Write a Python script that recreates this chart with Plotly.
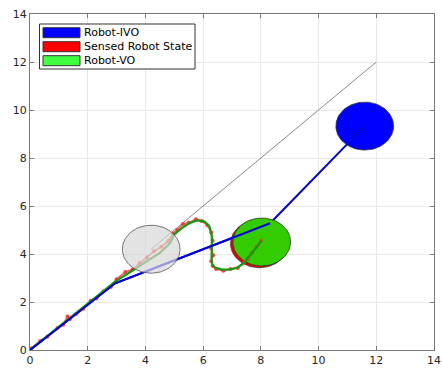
import numpy as np
import plotly.graph_objects as go

# ---- data ----
ivo_x = [0, 2.95, 8.32, 11.6]
ivo_y = [0, 2.78, 5.28, 9.33]

vo_x = [0, 0.5, 1.0, 1.5, 2.0, 2.5, 2.95, 3.5, 4.0, 4.5, 4.85, 5.0, 5.25, 5.5, 5.78,
        6.05, 6.22, 6.3, 6.3, 6.29, 6.32, 6.42, 6.65, 6.95, 7.2, 7.42, 7.68, 7.95, 8.03]
vo_y = [0, 0.48, 0.96, 1.44, 1.92, 2.4, 2.85, 3.27, 3.65, 4.05, 4.45, 4.82, 5.07, 5.27, 5.4,
        5.35, 5.14, 4.75, 4.2, 3.8, 3.55, 3.43, 3.35, 3.36, 3.44, 3.64, 4.03, 4.42, 4.55]

sensed_x = [0.05, 0.35, 0.6, 0.95, 1.15, 1.3, 1.38, 1.6, 1.85, 2.1, 2.3, 2.55, 2.8, 3.0, 3.3,
            3.55, 3.8, 4.05, 4.3, 4.55, 4.8, 4.95, 5.1, 5.3, 5.5, 5.75, 5.95, 6.15, 6.28, 6.33,
            6.27, 6.35, 6.28, 6.33, 6.45, 6.7, 6.95, 7.2, 7.4, 7.55, 7.7, 7.85, 8.0]
sensed_y = [0.07, 0.38, 0.55, 0.92, 1.05, 1.4, 1.28, 1.5, 1.72, 2.05, 2.15, 2.45, 2.62, 2.95, 3.25,
            3.35, 3.62, 3.85, 4.12, 4.3, 4.55, 4.85, 5.0, 5.25, 5.3, 5.45, 5.38, 5.2, 4.9, 4.55,
            4.25, 3.95, 3.7, 3.5, 3.38, 3.3, 3.38, 3.42, 3.62, 3.8, 4.05, 4.3, 4.55]

guide_x = [4.2, 12]
guide_y = [4.2, 12]

# circles: center x, center y, radius
ivo_circle = (11.6, 9.33, 1.0)
sensed_circle = (7.95, 4.43, 1.0)
vo_circle = (8.03, 4.5, 1.0)
obstacle_circle = (4.2, 4.2, 1.0)

ticks = [0, 2, 4, 6, 8, 10, 12, 14]
legend_labels = ["Robot-IVO", "Sensed Robot State", "Robot-VO"]
legend_colors = ["#0000ff", "#ff0000", "#40ff40"]

# ---- figure ----
t = np.linspace(0, 2 * np.pi, 121)


def circ(c):
    return c[0] + c[2] * np.cos(t), c[1] + c[2] * np.sin(t)


fig = go.Figure()

fig.add_trace(go.Scatter(x=guide_x, y=guide_y, mode="lines",
                         line=dict(color="#8a8a8a", width=1), showlegend=False))

fig.add_trace(go.Scatter(x=ivo_x, y=ivo_y, mode="lines",
                         line=dict(color="#0000dd", width=2), showlegend=False))

cx, cy = circ(ivo_circle)
fig.add_trace(go.Scatter(x=cx, y=cy, mode="lines", fill="toself", fillcolor="#0000ff",
                         line=dict(color="#333333", width=0.8), showlegend=False))
fig.add_trace(go.Scatter(x=ivo_x[-2:], y=ivo_y[-2:], mode="lines",
                         line=dict(color="#1a1a70", width=0.8), showlegend=False))

cx, cy = circ(sensed_circle)
fig.add_trace(go.Scatter(x=cx, y=cy, mode="lines", fill="toself", fillcolor="#ee0000",
                         line=dict(color="#333333", width=0.8), showlegend=False))
cx, cy = circ(vo_circle)
fig.add_trace(go.Scatter(x=cx, y=cy, mode="lines", fill="toself", fillcolor="#33cc00",
                         line=dict(color="#333333", width=0.8), showlegend=False))

fig.add_trace(go.Scatter(x=sensed_x, y=sensed_y, mode="lines+markers",
                         line=dict(color="rgba(255,70,70,0.85)", width=1.8),
                         marker=dict(color="rgba(255,50,50,0.9)", size=4),
                         showlegend=False))
fig.add_trace(go.Scatter(x=vo_x, y=vo_y, mode="lines",
                         line=dict(color="#139a13", width=2.2), showlegend=False))
# re-draw IVO path on top of green in the shared initial segment
fig.add_trace(go.Scatter(x=ivo_x[:3], y=ivo_y[:3], mode="lines",
                         line=dict(color="#0000dd", width=2), showlegend=False))

cx, cy = circ(obstacle_circle)
fig.add_trace(go.Scatter(x=cx, y=cy, mode="lines", fill="toself",
                         fillcolor="rgba(215,215,215,0.7)",
                         line=dict(color="#555555", width=0.8), showlegend=False))

# ---- manual legend (MATLAB style) ----
L, R, T, B = 30, 434, 14, 350
W, H = R - L, B - T


def px(x):
    return (x - L) / W


def py(y):
    return (B - y) / H


shapes = [dict(type="rect", xref="paper", yref="paper",
               x0=px(39.5), x1=px(195), y0=py(69), y1=py(24),
               line=dict(color="#333333", width=1), fillcolor="white", layer="above")]
annotations = []
for i, (lab, col) in enumerate(zip(legend_labels, legend_colors)):
    top = 27.7 + 14 * i
    shapes.append(dict(type="rect", xref="paper", yref="paper",
                       x0=px(43), x1=px(80), y0=py(top + 10), y1=py(top),
                       line=dict(color="#333333", width=1), fillcolor=col, layer="above"))
    annotations.append(dict(xref="paper", yref="paper", x=px(82), y=py(top + 5),
                            text=lab, showarrow=False, xanchor="left", yanchor="middle",
                            font=dict(family="DejaVu Sans", size=11, color="#000000")))

axis_common = dict(range=[0, 14], tickvals=ticks, ticktext=[str(v) for v in ticks],
                   ticks="inside", ticklen=4, tickcolor="#777777", mirror="ticks",
                   showline=True, linecolor="#777777", linewidth=1, automargin=False,
                   showgrid=True, gridcolor="#e8e8e8", gridwidth=1, zeroline=False,
                   tickfont=dict(family="DejaVu Sans", size=11, color="#262626"))

fig.update_layout(
    width=442, height=368,
    margin=dict(l=L, r=442 - R, t=T, b=368 - B),
    plot_bgcolor="white", paper_bgcolor="white",
    xaxis=axis_common, yaxis=axis_common,
    shapes=shapes, annotations=annotations, showlegend=False,
)

fig.write_html("out.html")
